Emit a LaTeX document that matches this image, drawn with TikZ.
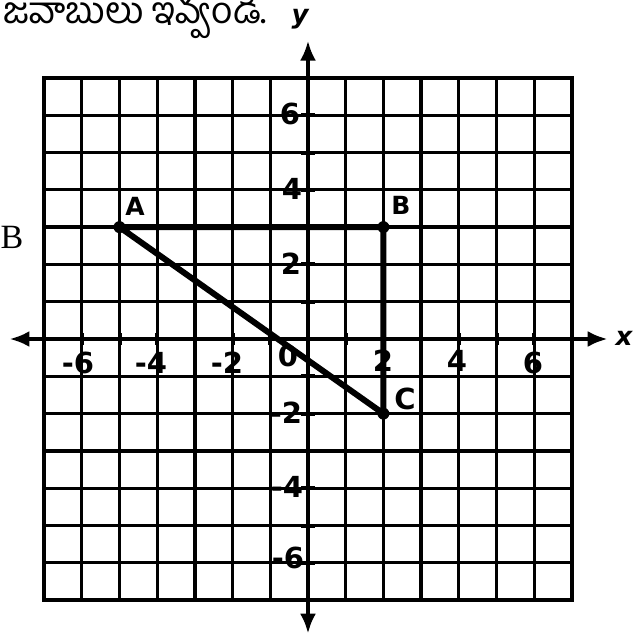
\documentclass[tikz,border=0pt]{standalone}
\usepackage{fontspec}
\newfontfamily\telugu[Script=Telugu]{Hind Guntur}
\newfontfamily\labfont{DejaVu Sans}
\newfontfamily\serifB{Liberation Serif}
\usetikzlibrary{arrows.meta}
\tikzset{
  gridline/.style={line width=3.3pt, line cap=rect},
  axisline/.style={line width=4.8pt, {Latex[length=20pt,width=16pt]}-{Latex[length=20pt,width=16pt]}},
  tickmark/.style={line width=4pt},
  tri/.style={line width=6pt, line join=round, line cap=round},
  numlab/.style={font=\labfont\bfseries\fontsize{29}{32}\selectfont, inner sep=0pt},
  ptlab/.style={font=\labfont\bfseries\fontsize{25}{28}\selectfont, inner sep=0pt},
  axlab/.style={font=\labfont\bfseries\itshape\fontsize{26}{30}\selectfont, inner sep=0pt},
}
\begin{document}
\begin{tikzpicture}[x=1pt,y=-1pt]
\useasboundingbox[fill=white] (0,0) rectangle (634,635);
\node[anchor=west, font=\telugu\fontsize{37}{42}\selectfont, inner sep=0pt] (title) at (3,15) {జవాబులు ఇవ్వండి.};
\node[font=\serifB\fontsize{34}{40}\selectfont, inner sep=0pt] (sideB) at (12,237) {B};
\begin{scope}[shift={(308pt,-339pt)}, x=37.7pt, y=37.3pt]
  \foreach \i in {-7,...,7} {
    \draw[gridline] (\i,-7) -- (\i,7);
    \draw[gridline] (-7,\i) -- (7,\i);
  }
  \coordinate (xL) at (-7.92,0);
  \coordinate (xR) at (7.95,0);
  \coordinate (yT) at (0,8.0);
  \coordinate (yB) at (0,-7.9);
  \draw[axisline] (xL) -- (xR);
  \draw[axisline] (yB) -- (yT);
  \foreach \i in {-7,...,7} {
    \draw[tickmark] (\i,-0.15) -- (\i,0.15);
    \draw[tickmark] (-0.18,\i) -- (0.18,\i);
  }
  \coordinate (A) at (-5,3);
  \coordinate (B) at (2,3);
  \coordinate (C) at (2,-2);
  \draw[tri] (A) -- (B) -- (C) -- cycle;
  \foreach \p in {A,B,C} \fill (\p) circle (6pt);
\end{scope}
% axis labels
\node[axlab] (xlab) at (624,338) {x};
\node[axlab] (ylab) at (300,19) {y};
% x tick labels
\node[numlab] (xm6) at (84,363) {\llap{-}6};
\node[numlab] (xm4) at (157,363) {\llap{-}4};
\node[numlab] (xm2) at (233,363) {\llap{-}2};
\node[numlab] (x0) at (288,356) {0};
\node[numlab] (x2) at (383,361) {2};
\node[numlab] (x4) at (457,361) {4};
\node[numlab] (x6) at (533,363) {6};
% y tick labels
\node[numlab] (y6) at (290,114) {6};
\node[numlab] (y4) at (292,189) {4};
\node[numlab] (y2) at (291,264) {2};
\node[numlab] (ym2) at (292,413) {\llap{-}2};
\node[numlab] (ym4) at (293,487) {\llap{-}4};
\node[numlab] (ym6) at (294,558) {\llap{-}6};
% point labels
\node[ptlab] (labA) at (135,206) {A};
\node[ptlab] (labB) at (401,205) {B};
\node[ptlab, font=\labfont\bfseries\fontsize{29}{30}\selectfont] (labC) at (405,399) {C};
\end{tikzpicture}
\end{document}
